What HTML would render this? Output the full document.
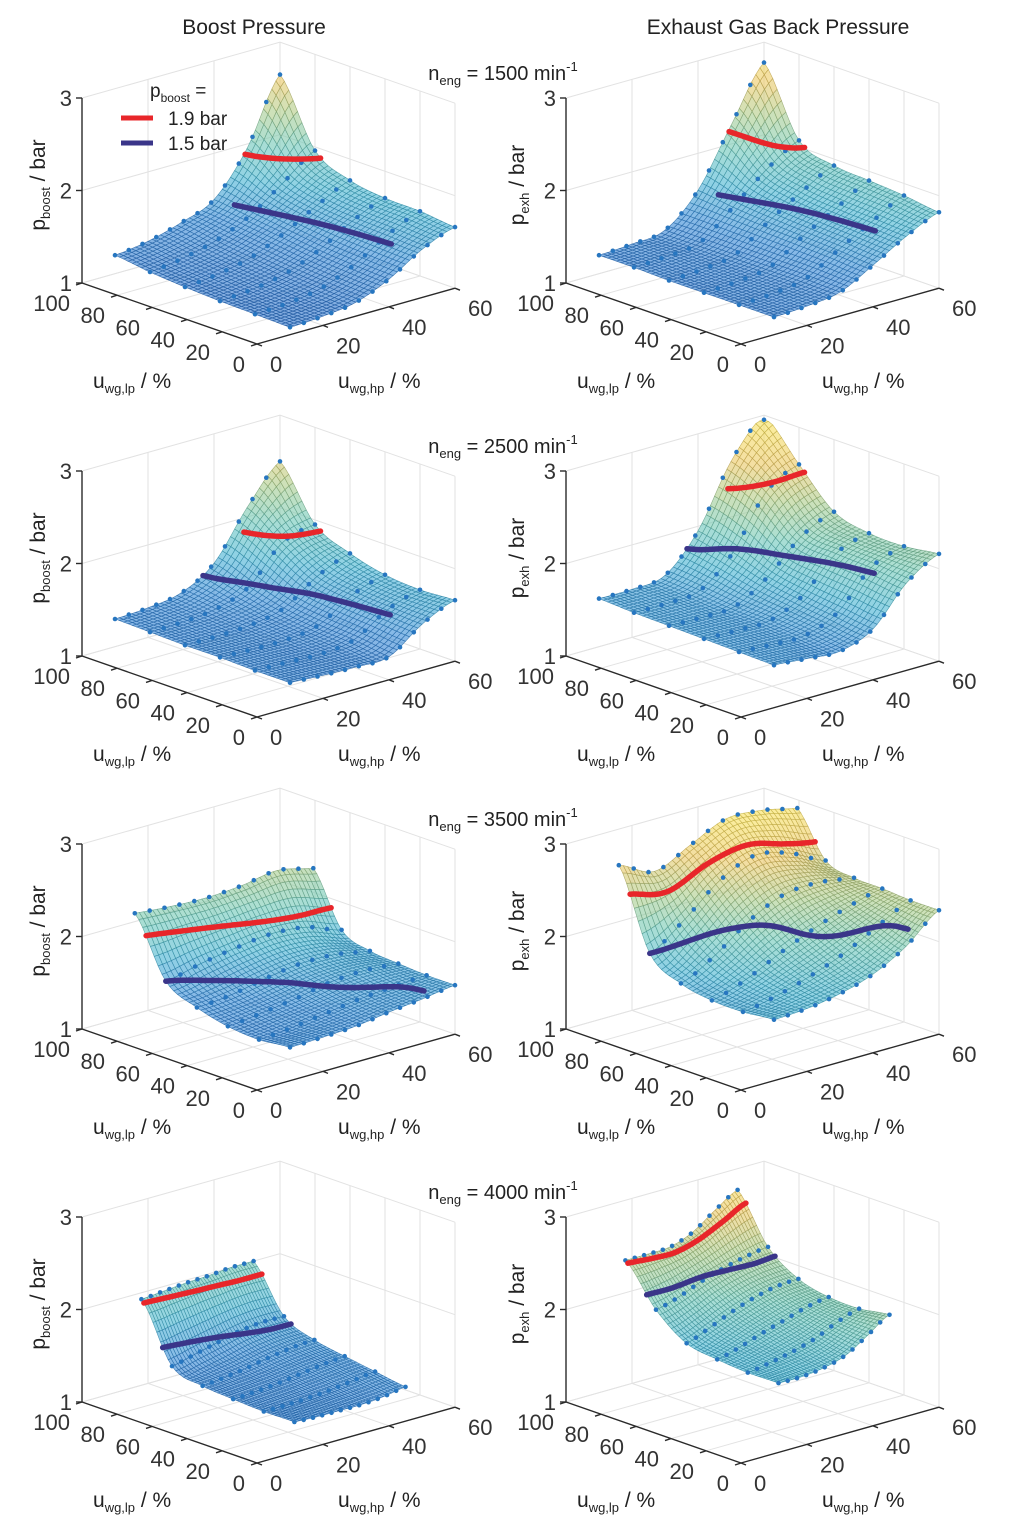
<!DOCTYPE html>
<html><head><meta charset="utf-8"><style>
html,body{margin:0;padding:0;background:#fff;}
svg{display:block;font-family:"Liberation Sans",Arial,sans-serif;}
</style></head><body>
<svg id="fig" xmlns="http://www.w3.org/2000/svg" width="1024" height="1537" viewBox="0 0 1024 1537">
<rect width="1024" height="1537" fill="#fff"/>
<text x="254" y="34" font-size="21" text-anchor="middle" fill="#222">Boost Pressure</text>
<text x="778" y="34" font-size="21" text-anchor="middle" fill="#222">Exhaust Gas Back Pressure</text>
<g id="panels"></g>
<g>
<text x="150" y="97" font-size="19" fill="#222">p<tspan font-size="12" dy="5">boost</tspan><tspan dy="-5"> =</tspan></text>
<line x1="121" y1="118" x2="153" y2="118" stroke="#e8262a" stroke-width="5"/>
<text x="168" y="125" font-size="19" fill="#222">1.9 bar</text>
<line x1="121" y1="143" x2="153" y2="143" stroke="#3a3589" stroke-width="5"/>
<text x="168" y="150" font-size="19" fill="#222">1.5 bar</text>
</g>
</svg>
<script>
// ---- data: z grids (rows: u = lp-direction 0..1 in 6 steps; cols: v = hp-direction 0..1 in 6 steps)
const speeds = [1500, 2500, 3500, 4000];
const boost1500 = [
 [1.08,1.10,1.15,1.30,1.52,1.66],
 [1.09,1.11,1.17,1.32,1.54,1.70],
 [1.10,1.13,1.20,1.35,1.56,1.71],
 [1.12,1.16,1.24,1.40,1.60,1.77],
 [1.15,1.20,1.29,1.45,1.70,1.96],
 [1.20,1.25,1.35,1.50,1.95,2.65]];
const exhaust1500 = [
 [1.19,1.21,1.26,1.45,1.66,1.82],
 [1.19,1.21,1.27,1.48,1.68,1.87],
 [1.19,1.21,1.27,1.50,1.70,1.90],
 [1.19,1.21,1.27,1.52,1.74,1.93],
 [1.20,1.22,1.27,1.55,1.85,2.07],
 [1.20,1.22,1.27,1.60,2.20,2.78]];
const boost2500 = [
 [1.27,1.25,1.24,1.25,1.50,1.66],
 [1.27,1.26,1.25,1.30,1.52,1.64],
 [1.28,1.27,1.27,1.33,1.55,1.67],
 [1.28,1.28,1.30,1.38,1.62,1.77],
 [1.29,1.30,1.34,1.48,1.85,1.95],
 [1.30,1.32,1.38,1.60,2.10,2.50]];
const exhaust2500 = [
 [1.46,1.43,1.41,1.55,1.94,2.16],
 [1.47,1.45,1.45,1.60,1.98,2.11],
 [1.48,1.47,1.48,1.65,2.00,2.12],
 [1.49,1.48,1.50,1.72,2.05,2.22],
 [1.50,1.50,1.54,1.85,2.40,2.60],
 [1.52,1.52,1.57,1.95,2.60,3.00]];
const boost3500 = [
 [1.36,1.37,1.39,1.44,1.48,1.53],
 [1.30,1.34,1.40,1.46,1.50,1.53],
 [1.30,1.36,1.43,1.52,1.56,1.55],
 [1.36,1.42,1.52,1.60,1.62,1.58],
 [1.50,1.62,1.72,1.80,1.80,1.70],
 [2.09,2.10,2.13,2.20,2.30,2.26]];
const exhaust3500 = [
 [1.66,1.68,1.74,1.85,2.05,2.34],
 [1.60,1.68,1.80,1.95,2.15,2.34],
 [1.58,1.72,1.92,2.10,2.25,2.36],
 [1.62,1.85,2.15,2.35,2.40,2.37],
 [1.80,2.10,2.45,2.65,2.60,2.45],
 [2.61,2.48,2.70,2.92,2.95,2.91]];
const boost4000 = [
 [1.27,1.27,1.28,1.29,1.32,1.37],
 [1.25,1.26,1.28,1.31,1.35,1.39],
 [1.25,1.27,1.30,1.34,1.38,1.41],
 [1.26,1.29,1.33,1.38,1.42,1.44],
 [1.34,1.40,1.46,1.52,1.55,1.55],
 [1.93,1.95,1.97,1.98,2.00,2.00]];
const exhaust4000 = [
 [1.69,1.70,1.74,1.82,1.98,2.15],
 [1.67,1.72,1.78,1.86,1.98,2.07],
 [1.68,1.75,1.84,1.92,2.00,2.05],
 [1.72,1.82,1.93,2.02,2.08,2.10],
 [1.95,2.02,2.12,2.20,2.26,2.30],
 [2.35,2.35,2.36,2.45,2.62,2.77]];
// domain corners (lp, hp): front, left, back, right
const domain1500 = [[0,10],[100,10],[100,60],[0,60]];
const domain2500 = [[0,10],[100,10],[100,60],[0,60]];
const domain3500 = [[0,10],[100,16],[81,60],[0,60]];
const domain4000 = [[5,14],[100,18],[100,52],[0,45]];
const contourLevels = [1.9, 1.5];
const lpTicks = [100,80,60,40,20,0];
const hpTicks = [0,20,40,60];
const zTicks = [1,2,3];

const boostGrids = [boost1500, boost2500, boost3500, boost4000];
const exhGrids = [exhaust1500, exhaust2500, exhaust3500, exhaust4000];
const domains = [domain1500, domain2500, domain3500, domain4000];

const NS = "http://www.w3.org/2000/svg";
const root = document.getElementById('panels');
function mk(tag, attrs, parent){ const e=document.createElementNS(NS,tag); for(const k in attrs) e.setAttribute(k,attrs[k]); (parent||root).appendChild(e); return e; }

function P(ox, oy, lp, hp, z){
  return [ox + 257 - 1.75*lp + 3.3*hp, oy + 344 - 0.61*lp - 0.93*hp - 92.5*(z-1)];
}
function cr(p0,p1,p2,p3,t){ return 0.5*(2*p1 + (-p0+p2)*t + (2*p0-5*p1+4*p2-p3)*t*t + (-p0+3*p1-3*p2+p3)*t*t*t); }
function sample(g,u,v){
  const fu=u*5, fv=v*5;
  const i=Math.min(Math.floor(fu),4), j=Math.min(Math.floor(fv),4);
  const tu=fu-i, tv=fv-j;
  const cl=k=>Math.max(0,Math.min(5,k));
  const rows=[];
  for(let a=-1;a<=2;a++){ const r=g[cl(i+a)]; rows.push(cr(r[cl(j-1)],r[cl(j)],r[cl(j+1)],r[cl(j+2)],tv)); }
  return Math.min(2.95, cr(rows[0],rows[1],rows[2],rows[3],tu));
}
function mapUV(d,u,v){
  const w=[(1-u)*(1-v), u*(1-v), u*v, (1-u)*v];
  return [w[0]*d[0][0]+w[1]*d[1][0]+w[2]*d[2][0]+w[3]*d[3][0], w[0]*d[0][1]+w[1]*d[1][1]+w[2]*d[2][1]+w[3]*d[3][1]];
}
const stops=[[0,[45,110,200]],[0.2,[55,140,215]],[0.35,[70,180,210]],[0.5,[110,200,185]],[0.65,[170,205,140]],[0.8,[235,200,100]],[1,[250,230,90]]];
function cmap(z){
  let t=Math.max(0,Math.min(1,(z-1)/2));
  for(let k=1;k<stops.length;k++){ if(t<=stops[k][0]){ const a=stops[k-1], b=stops[k]; const f=(t-a[0])/(b[0]-a[0]); return a[1].map((c,i)=>Math.round(c+(b[1][i]-c)*f)); } }
  return stops[stops.length-1][1];
}
function contour(g, level){
  const segs=[]; let cur=[];
  for(let jv=0;jv<=60;jv++){
    const v=jv/60; let prev=sample(g,1,v), found=null;
    if(prev>=level){
      for(let iu=199;iu>=0;iu--){ const u=iu/200, z=sample(g,u,v); if(z<level){ const uc=u+(1/200)*(level-z)/(prev-z); found=uc; break;} prev=z; }
    }
    if(found!==null){ cur.push([found,v]); } else { if(cur.length>1) segs.push(cur); cur=[]; }
  }
  if(cur.length>1) segs.push(cur);
  return segs;
}

function drawAxes(g, ox, oy, isBoost, row){
  const grid='#e2e2e2';
  lpTicks.forEach(l=>{ const a=P(ox,oy,l,0,1), b=P(ox,oy,l,60,1); const e=mk('line',{x1:a[0],y1:a[1],x2:b[0],y2:b[1],stroke:grid,'stroke-width':1},g);   });
  hpTicks.forEach(h=>{ const a=P(ox,oy,0,h,1), b=P(ox,oy,100,h,1); const e=mk('line',{x1:a[0],y1:a[1],x2:b[0],y2:b[1],stroke:grid,'stroke-width':1},g);   });
  hpTicks.forEach(h=>{ const a=P(ox,oy,100,h,1), b=P(ox,oy,100,h,3); const e=mk('line',{x1:a[0],y1:a[1],x2:b[0],y2:b[1],stroke:grid,'stroke-width':1},g);   });
  lpTicks.forEach(l=>{ const a=P(ox,oy,l,60,1), b=P(ox,oy,l,60,3); const e=mk('line',{x1:a[0],y1:a[1],x2:b[0],y2:b[1],stroke:grid,'stroke-width':1},g);   });
  zTicks.forEach(z=>{ const a=P(ox,oy,100,0,z), b=P(ox,oy,100,60,z), c=P(ox,oy,0,60,z); const e=mk('polyline',{points:a.join(',')+' '+b.join(',')+' '+c.join(','),fill:'none',stroke:grid,'stroke-width':1},g);   });
  const ax='#2a2a2a';
  const L0=P(ox,oy,100,0,1), L1=P(ox,oy,100,0,3), F=P(ox,oy,0,0,1), R=P(ox,oy,0,60,1);
  let e=mk('line',{x1:L0[0],y1:L0[1],x2:L1[0],y2:L1[1],stroke:ax,'stroke-width':1.4},g);  
  e=mk('line',{x1:L0[0],y1:L0[1],x2:F[0],y2:F[1],stroke:ax,'stroke-width':1.4},g);  
  e=mk('line',{x1:F[0],y1:F[1],x2:R[0],y2:R[1],stroke:ax,'stroke-width':1.4},g);  
  zTicks.forEach(z=>{ const p=P(ox,oy,100,0,z);
    e=mk('line',{x1:p[0],y1:p[1],x2:p[0]-6,y2:p[1],stroke:ax,'stroke-width':1.4},g);  
    e=mk('text',{x:p[0]-10,y:p[1]+8,'font-size':22,'text-anchor':'end',fill:'#333'},g); e.textContent=z;   });
  lpTicks.forEach(l=>{ const p=P(ox,oy,l,0,1);
    e=mk('line',{x1:p[0],y1:p[1],x2:p[0]-6,y2:p[1]+2,stroke:ax,'stroke-width':1.4},g);  
    e=mk('text',{x:p[0]-12,y:p[1]+28,'font-size':22,'text-anchor':'end',fill:'#333'},g); e.textContent=l;   });
  hpTicks.forEach(h=>{ const p=P(ox,oy,0,h,1);
    e=mk('line',{x1:p[0],y1:p[1],x2:p[0]+5,y2:p[1]+2,stroke:ax,'stroke-width':1.4},g);  
    e=mk('text',{x:p[0]+13,y:p[1]+28,'font-size':22,'text-anchor':'start',fill:'#333'},g); e.textContent=h;   });
  e=mk('text',{x:ox+93,y:oy+388,'font-size':21,fill:'#222'},g);
  e.innerHTML='u<tspan font-size="13" dy="5">wg,lp</tspan><tspan dy="-5"> / %</tspan>';
   
  e=mk('text',{x:ox+338,y:oy+388,'font-size':21,fill:'#222'},g);
  e.innerHTML='u<tspan font-size="13" dy="5">wg,hp</tspan><tspan dy="-5"> / %</tspan>';
   
  const yx=ox+(isBoost?45:40), yy=oy+185;
  e=mk('text',{x:yx,y:yy,'font-size':21,fill:'#222','text-anchor':'middle',transform:'rotate(-90 '+yx+' '+yy+')'},g);
  e.innerHTML=isBoost?'p<tspan font-size="13" dy="5">boost</tspan><tspan dy="-5"> / bar</tspan>':'p<tspan font-size="13" dy="5">exh</tspan><tspan dy="-5"> / bar</tspan>';
   
}

function drawSurface(g, ox, oy, grid, dom){
  const N=40, pts=[], zs=[];
  for(let i=0;i<=N;i++){ pts.push([]); zs.push([]);
    for(let j=0;j<=N;j++){ const u=i/N, v=j/N; const lh=mapUV(dom,u,v); const z=sample(grid,u,v); zs[i].push(z); pts[i].push(P(ox,oy,lh[0],lh[1],z)); } }
  const quads=[];
  for(let i=0;i<N;i++) for(let j=0;j<N;j++) quads.push([i,j]);
  quads.sort((a,b)=>(b[0]+b[1])-(a[0]+a[1]));
  const sg=mk('g',{},g);
  
  
  quads.forEach(([i,j])=>{
    const zc=(zs[i][j]+zs[i+1][j]+zs[i][j+1]+zs[i+1][j+1])/4;
    const c=cmap(zc), cs=c.map(x=>Math.round(x*0.8));
    const p=[pts[i][j],pts[i+1][j],pts[i+1][j+1],pts[i][j+1]].map(q=>q[0].toFixed(1)+','+q[1].toFixed(1)).join(' ');
    const e=mk('polygon',{points:p,fill:'rgb('+c.join(',')+')','fill-opacity':0.6,stroke:'rgb('+cs.join(',')+')','stroke-width':0.6,'stroke-opacity':0.85},sg);
    
    
  });
  const dg=mk('g',{},g);
  
  
  for(let i=0;i<=5;i++) for(let j=0;j<=12;j++){
    const u=i/5, v=j/12; const lh=mapUV(dom,u,v); const p=P(ox,oy,lh[0],lh[1],sample(grid,u,v));
    const e=mk('circle',{cx:p[0].toFixed(1),cy:p[1].toFixed(1),r:2.3,fill:'#2776c0'},dg);
    
    
  }
}

function drawContours(g, ox, oy, grid, dom, segsList){
  segsList.forEach((segs,k)=>{
    const col=k===0?'#e8262a':'#3a3589';
    segs.forEach(seg=>{
      const p=seg.map(([u,v])=>{ const lh=mapUV(dom,u,v); const q=P(ox,oy,lh[0],lh[1],sample(grid,u,v)); return q[0].toFixed(1)+','+q[1].toFixed(1); }).join(' ');
      const e=mk('polyline',{points:p,fill:'none',stroke:col,'stroke-width':5.5,'stroke-linecap':'round','stroke-linejoin':'round'},g);
      
      
    });
  });
}

for(let r=0;r<4;r++){
  const oy=r*373;
  const segsList=contourLevels.map(l=>contour(boostGrids[r],l));
  for(let c=0;c<2;c++){
    const ox=c*484;
    const g=mk('g',{});
    
    
    drawAxes(g,ox,oy,c===0,r);
    const grid=c===0?boostGrids[r]:exhGrids[r];
    drawSurface(g,ox,oy,grid,domains[r]);
    drawContours(g,ox,oy,grid,domains[r],segsList);
  }
  const t=mk('text',{x:503,y:oy+80,'font-size':20,'text-anchor':'middle',fill:'#222'});
  t.innerHTML='n<tspan font-size="13" dy="5">eng</tspan><tspan dy="-5"> = '+speeds[r]+' min</tspan><tspan font-size="13" dy="-9">-1</tspan>';
  
  
}
</script>
</body></html>
